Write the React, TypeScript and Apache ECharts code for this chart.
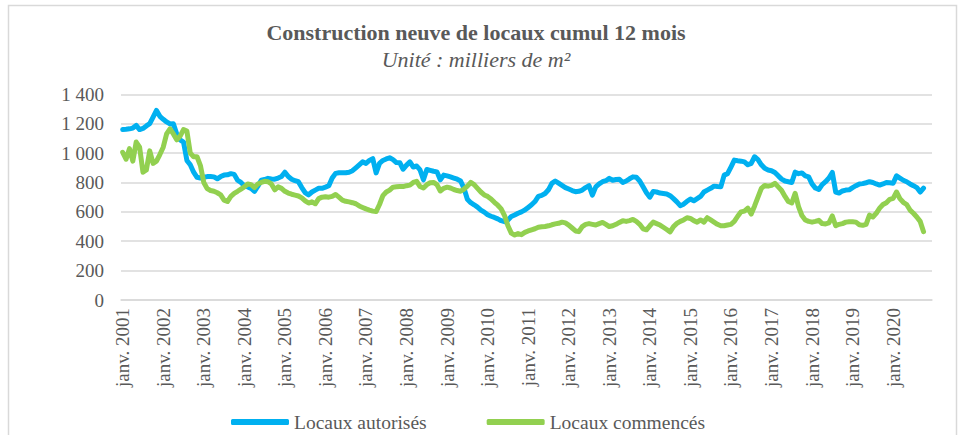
import React, { useEffect, useRef } from "react";
import * as echarts from "echarts";

const years = [2001, 2002, 2003, 2004, 2005, 2006, 2007, 2008, 2009, 2010, 2011, 2012, 2013, 2014, 2015, 2016, 2017, 2018, 2019, 2020];
const months = ["janv.", "févr.", "mars", "avr.", "mai", "juin", "juil.", "août", "sept.", "oct.", "nov.", "déc."];
const categories = years.flatMap((y) => months.map((m) => `${m} ${y}`));

const yTicks = { min: 0, max: 1400, step: 200 };

// Locaux autorisés (milliers de m², cumul 12 mois), janv. 2001 -> oct. 2020
const autorises = [
  1160, 1162, 1165, 1170, 1188, 1160, 1168, 1185, 1200, 1245, 1290, 1250,
  1230, 1212, 1198, 1200, 1130, 1090, 1075, 950, 920, 870, 835, 830,
  835, 840, 840, 838, 825, 840, 850, 852, 860, 855, 815, 800,
  778, 770, 760, 740, 775, 815, 820, 828, 824, 822, 830, 840,
  870, 840, 822, 812, 805, 765, 730, 715, 735, 748, 760, 760,
  768, 778, 830, 862, 866, 866, 866, 870, 880, 900, 920, 940,
  930, 950, 962, 865, 930, 950, 960, 968, 955, 935, 934, 890,
  918, 940, 905, 912, 885, 818, 888, 882, 876, 872, 818, 850,
  845, 838, 830, 822, 810, 760, 685, 662, 648, 632, 612, 598,
  580, 570, 562, 552, 540, 533, 545, 568, 578, 590, 600, 612,
  630, 648, 670, 705, 712, 725, 750, 794, 810, 795, 780, 765,
  755, 745, 737, 740, 748, 765, 778, 714, 770, 790, 805, 812,
  828, 815, 820, 822, 800, 810, 825, 838, 835, 810, 770, 730,
  700, 738, 735, 728, 725, 722, 710, 690, 668, 642, 652, 672,
  687, 675, 690, 705, 735, 748, 760, 775, 772, 770, 850, 860,
  905, 952, 948, 945, 940, 920, 930, 975, 955, 920, 896, 885,
  880, 868, 845, 823, 810, 805, 800, 870, 860, 865, 845, 838,
  790, 762, 752, 785, 805, 830, 868, 735, 728, 742, 748, 750,
  765, 778, 790, 792, 798, 805, 800, 790, 782, 790, 800, 798,
  795, 845, 830, 815, 805, 790, 778, 765, 735, 762,
];

// Locaux commencés
const commences = [
  1005, 958, 1030, 945, 1075, 1040, 870, 885, 1015, 930, 945, 990,
  1040, 1130, 1165, 1130, 1090, 1115, 1160, 1150, 1000, 975, 975, 915,
  800, 758, 745, 740, 730, 716, 680, 670, 705, 726, 740, 755,
  770, 790, 785, 765, 790, 800, 808, 805, 790, 750, 770, 760,
  740, 728, 720, 714, 708, 695, 675, 660, 668, 655, 690, 700,
  703, 700, 705, 718, 700, 680, 672, 668, 662, 655, 640, 630,
  620, 612, 605, 602, 650, 710, 735, 748, 768, 770, 772, 772,
  778, 782, 800, 808, 772, 762, 785, 798, 800, 785, 742, 760,
  768, 762, 752, 745, 740, 755, 775, 800, 785, 760, 735, 715,
  705, 688, 665, 645, 620, 575, 505, 455, 442, 452, 445, 460,
  470, 478, 485, 495, 498, 500, 505, 512, 518, 522, 530, 525,
  510, 490, 470, 465, 500, 515, 520, 515, 510, 520, 528, 515,
  500, 505, 515, 528, 540, 535, 540, 548, 535, 515, 485, 478,
  505, 530, 520, 510, 495, 480, 464, 500, 521, 535, 545, 560,
  555, 540, 530, 545, 530, 560, 545, 530, 515, 505, 505, 510,
  515, 535, 570, 600, 605, 625, 585, 640, 700, 760, 780, 775,
  780, 794, 770, 745, 705, 670, 660, 726, 635, 575, 545, 535,
  530, 535, 542, 520, 518, 525, 572, 505, 515, 520, 530, 533,
  533, 530, 512, 508, 515, 578, 565, 590, 625, 650, 662, 685,
  692, 735, 690, 665, 650, 612, 590, 565, 535, 465,
];

const FONT = "Liberation Serif";
const TXT = "#595959";
const GRID = "#d9d9d9";

function fmt(v: number): string {
  if (v >= 1000) {
    const t = Math.floor(v / 1000);
    const r = String(v % 1000).padStart(3, "0");
    return `${t} ${r}`;
  }
  return String(v);
}

export default function App() {
  const ref = useRef<HTMLDivElement>(null);
  useEffect(() => {
    document.body.style.margin = "0";
    const chart = echarts.init(ref.current!, null, { renderer: "svg" });
    chart.setOption({
      animation: false,
      backgroundColor: "#ffffff",
      graphic: [
        {
          type: "rect",
          silent: true,
          z: -10,
          shape: { x: 8.5, y: 5.5, width: 948, height: 470 },
          style: { fill: "none", stroke: GRID, lineWidth: 1.5 },
        },
        {
          type: "text",
          silent: true,
          style: {
            text: "Construction neuve de locaux cumul 12 mois",
            x: 476,
            y: 32,
            align: "center",
            verticalAlign: "middle",
            font: "bold 22px 'Liberation Serif'",
            fill: TXT,
          },
        },
        {
          type: "text",
          silent: true,
          style: {
            text: "Unité : milliers de m²",
            x: 476,
            y: 59,
            align: "center",
            verticalAlign: "middle",
            font: "italic 22px 'Liberation Serif'",
            fill: TXT,
          },
        },
      ],
      legend: {
        left: 226,
        top: 407,
        icon: "roundRect",
        itemWidth: 58,
        itemHeight: 6,
        itemGap: 60,
        textStyle: { fontFamily: FONT, fontSize: 19.5, color: TXT },
        data: ["Locaux autorisés", "Locaux commencés"],
      },
      grid: { left: 121, right: 30, top: 94.3, bottom: 135, containLabel: false },
      xAxis: {
        type: "category",
        data: categories,
        boundaryGap: true,
        axisTick: { show: false },
        axisLine: { lineStyle: { color: GRID, width: 1.5 } },
        axisLabel: {
          rotate: 90,
          interval: (idx: number) => idx % 12 === 0,
          margin: 8,
          fontFamily: FONT,
          fontSize: 19,
          color: TXT,
        },
      },
      yAxis: {
        type: "value",
        min: yTicks.min,
        max: yTicks.max,
        interval: yTicks.step,
        axisLine: { show: false },
        axisTick: { show: false },
        splitLine: { lineStyle: { color: GRID, width: 1.5 } },
        axisLabel: {
          margin: 17,
          fontFamily: FONT,
          fontSize: 19,
          color: TXT,
          formatter: (v: number) => fmt(v),
        },
      },
      series: [
        {
          name: "Locaux autorisés",
          type: "line",
          data: autorises,
          symbol: "none",
          color: "#00b0f0",
          lineStyle: { width: 5, color: "#00b0f0", cap: "round", join: "round" },
        },
        {
          name: "Locaux commencés",
          type: "line",
          data: commences,
          symbol: "none",
          color: "#92d050",
          lineStyle: { width: 5, color: "#92d050", cap: "round", join: "round" },
        },
      ],
    });
    return () => chart.dispose();
  }, []);
  return <div ref={ref} style={{ width: 962, height: 435 }} />;
}
